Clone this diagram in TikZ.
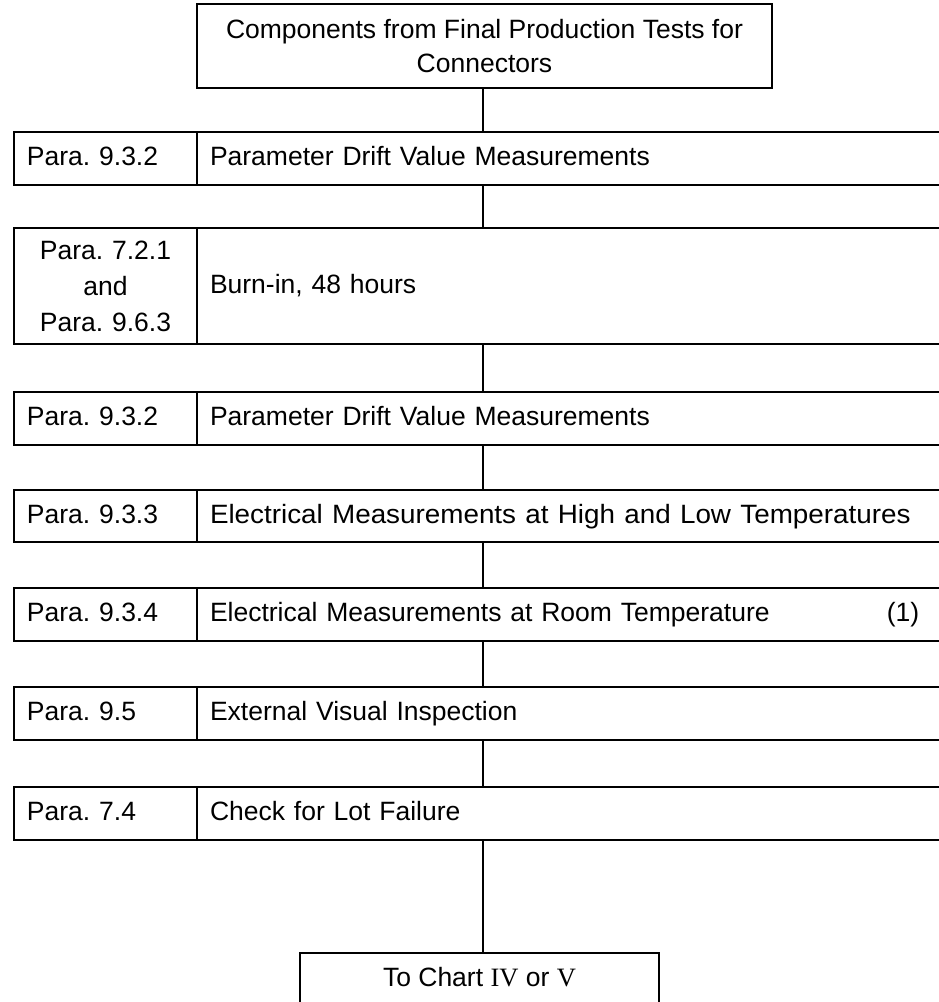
\documentclass[tikz,border=0pt]{standalone}
\usepackage{graphicx}
\usepackage{fontspec}
\setmainfont{Liberation Sans}
\newfontfamily\romanfont{Liberation Serif}
\frenchspacing
\begin{document}
\begin{tikzpicture}[x=1pt,y=-1pt,
  box/.style={draw, line width=2pt, inner sep=0pt, font=\fontsize{26.5}{34}\selectfont},
  oneline/.style={text height=19pt, text depth=5pt},
  leftcell/.style={box, minimum width=183pt, text width=157pt, inner xsep=13pt, align=left},
  rightcell/.style={box, minimum width=783pt, text width=757pt, inner xsep=13pt, align=left},
  link/.style={line width=2pt}]
\useasboundingbox (0,0) rectangle (939,1002);
\clip (0,0) rectangle (939,1002);
\coordinate (spine) at (483,0);

\node[box, minimum width=575pt, minimum height=84pt, align=center] (top) at (484.5,46)
  {Components from Final Production Tests for\\Connectors};

\node[leftcell, oneline, minimum height=53pt] (r1l) at (105.5,158.5) {Para. 9.3.2};
\node[rightcell, oneline, minimum height=53pt] (r1r) at (588.5,158.5) {Parameter Drift Value Measurements};

\node[leftcell, minimum height=116pt, align=center, font=\fontsize{26.5}{36}\selectfont] (r2l) at (105.5,286) {Para. 7.2.1\\and\\Para. 9.6.3};
\node[rightcell, oneline, minimum height=116pt] (r2r) at (588.5,286) {Burn-in, 48 hours};

\node[leftcell, oneline, minimum height=53pt] (r3l) at (105.5,418.5) {Para. 9.3.2};
\node[rightcell, oneline, minimum height=53pt] (r3r) at (588.5,418.5) {Parameter Drift Value Measurements};

\node[leftcell, oneline, minimum height=52pt] (r4l) at (105.5,516) {Para. 9.3.3};
\node[rightcell, oneline, minimum height=52pt] (r4r) at (588.5,516) {\scalebox{1.05}[1]{Electrical Measurements at High and Low Temperatures}};

\node[leftcell, oneline, minimum height=53pt] (r5l) at (105.5,614.5) {Para. 9.3.4};
\node[rightcell, oneline, minimum height=53pt] (r5r) at (588.5,614.5) {Electrical Measurements at Room Temperature};
\node[font=\fontsize{26.5}{34}\selectfont, inner sep=0pt, oneline] (note1) at (903,614.5) {(1)};

\node[leftcell, oneline, minimum height=53pt] (r6l) at (105.5,713.5) {Para. 9.5};
\node[rightcell, oneline, minimum height=53pt] (r6r) at (588.5,713.5) {External Visual Inspection};

\node[leftcell, oneline, minimum height=53pt] (r7l) at (105.5,813.5) {Para. 7.4};
\node[rightcell, oneline, minimum height=53pt] (r7r) at (588.5,813.5) {Check for Lot Failure};

\node[box, minimum width=359pt, anchor=north, align=center, text height=33pt, text depth=60pt] (chart) at (479.5,952)
  {To Chart {\romanfont IV} or {\romanfont V}};

\draw[link] (spine |- top.south) -- (spine |- r1r.north);
\draw[link] (spine |- r1r.south) -- (spine |- r2r.north);
\draw[link] (spine |- r2r.south) -- (spine |- r3r.north);
\draw[link] (spine |- r3r.south) -- (spine |- r4r.north);
\draw[link] (spine |- r4r.south) -- (spine |- r5r.north);
\draw[link] (spine |- r5r.south) -- (spine |- r6r.north);
\draw[link] (spine |- r6r.south) -- (spine |- r7r.north);
\draw[link] (spine |- r7r.south) -- (spine |- chart.north);
\end{tikzpicture}
\end{document}
